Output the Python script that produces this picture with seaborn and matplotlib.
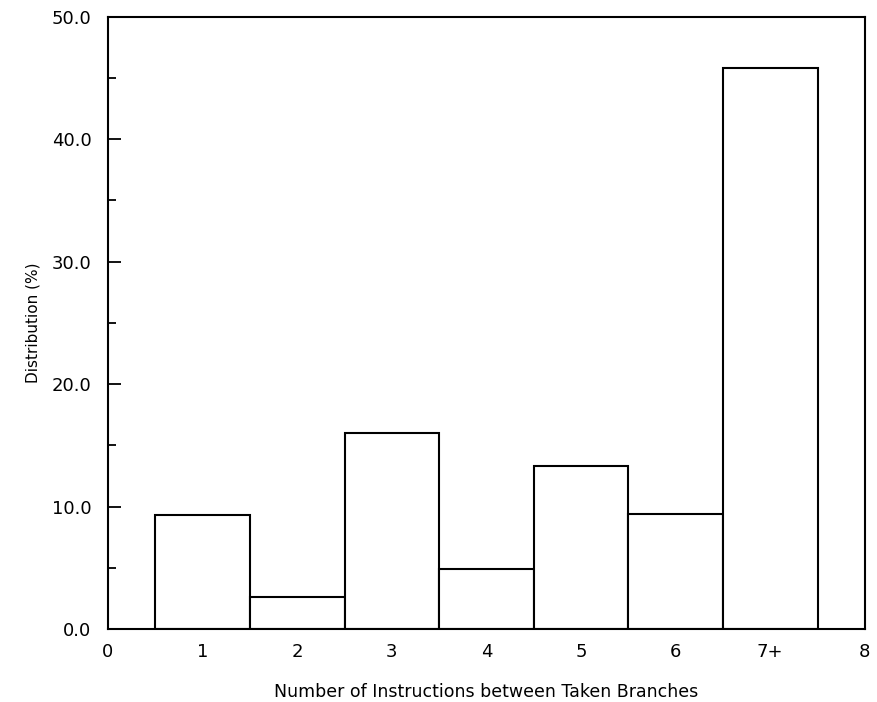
import matplotlib
matplotlib.use("Agg")
import matplotlib.pyplot as plt
import seaborn as sns
import pandas as pd
from matplotlib.ticker import MultipleLocator

positions = [1, 2, 3, 4, 5, 6, 7]
values = [9.3, 2.6, 16.0, 4.9, 13.3, 9.4, 45.8]
xtick_pos = [0, 1, 2, 3, 4, 5, 6, 7, 8]
xtick_labels = ["0", "1", "2", "3", "4", "5", "6", "7+", "8"]

sns.set_theme(style="white")
plt.rcParams["font.family"] = ["DejaVu Sans"]
plt.rcParams["text.color"] = "black"
plt.rcParams["axes.labelcolor"] = "black"
plt.rcParams["xtick.color"] = "black"
plt.rcParams["ytick.color"] = "black"

df = pd.DataFrame({"x": positions, "y": values})

fig = plt.figure(figsize=(8.78, 7.02), dpi=100)
ax = fig.add_axes([0.123, 0.104, 0.862, 0.872])

sns.barplot(data=df, x="x", y="y", native_scale=True, width=1.0,
            color="white", edgecolor="black", linewidth=1.5, ax=ax,
            errorbar=None)
for p in ax.patches:
    p.set_facecolor("white")

ax.set_xlim(0, 8)
ax.set_ylim(0, 50)
ax.set_xticks(xtick_pos)
ax.set_xticklabels(xtick_labels, fontsize=13)
ax.yaxis.set_major_locator(MultipleLocator(10))
ax.yaxis.set_minor_locator(MultipleLocator(5))
ax.set_yticklabels([f"{v:.1f}" for v in ax.get_yticks()], fontsize=13)
ax.tick_params(axis="y", which="major", direction="in", length=9, width=1.3, left=True, pad=12, colors="black")
ax.tick_params(axis="y", which="minor", direction="in", length=6, width=1.3, left=True, colors="black")
ax.tick_params(axis="x", which="both", length=0, pad=10, colors="black")

for s in ax.spines.values():
    s.set_visible(True)
    s.set_color("black")
    s.set_linewidth(1.5)

ax.set_xlabel("Number of Instructions between Taken Branches", fontsize=12.5, labelpad=16, color="black")
ax.set_ylabel("Distribution (%)", fontsize=11, labelpad=8, color="black")

fig.savefig("out.png", dpi=100, facecolor="white")
